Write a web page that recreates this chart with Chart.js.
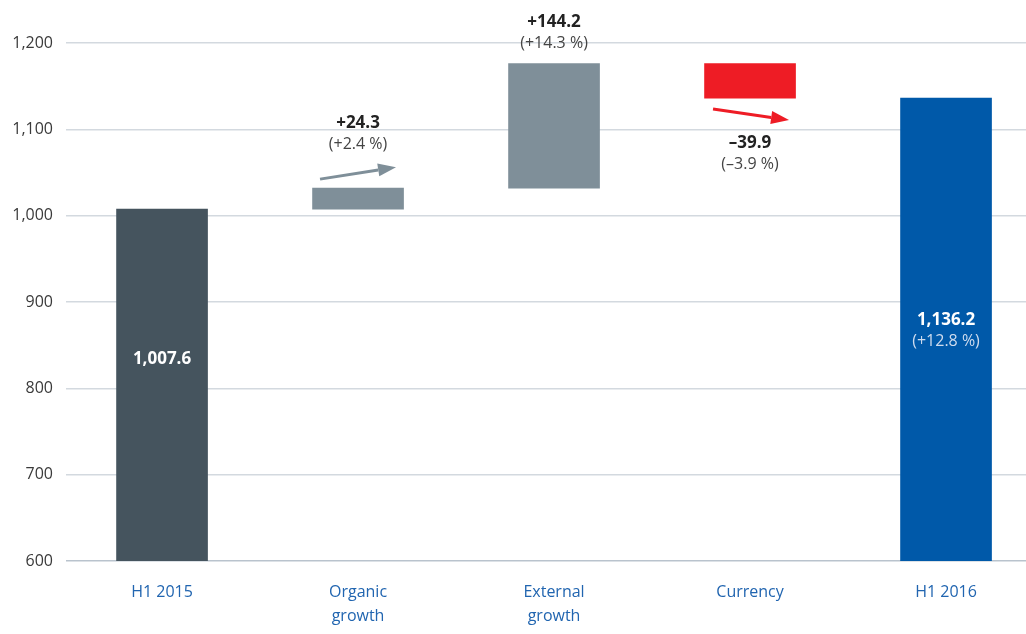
<!DOCTYPE html>
<html>
<head>
<meta charset="utf-8">
<script src="https://cdn.jsdelivr.net/npm/chart.js@4.4.1/dist/chart.umd.min.js"></script>
<style>
    html, body { margin: 0; padding: 0; background: #ffffff; }
    #wrap { width: 1026px; height: 634px; position: relative; }
</style>
</head>
<body>
<div id="wrap"><canvas id="bridgeChart"></canvas></div>
<script>
// Chart data
const categories = [["H1 2015"], ["Organic", "growth"], ["External", "growth"], ["Currency"], ["H1 2016"]];
const barStart = [600, 1007.6, 1031.9, 1136.2, 600];
const barEnd = [1007.6, 1031.9, 1176.1, 1176.1, 1136.2];
const valueLabels = ["1,007.6", "+24.3", "+144.2", "\u201339.9", "1,136.2"];
const percentLabels = [null, "(+2.4 %)", "(+14.3 %)", "(\u20133.9 %)", "(+12.8 %)"];
const yTicks = [600, 700, 800, 900, 1000, 1100, 1200];

const barColors = ["#45545e", "#7f8f99", "#7f8f99", "#ee1c25", "#0059a9"];
const FONT = "'Open Sans', 'Noto Sans', sans-serif";

// Draws the value labels and the small arrows next to the bars
const bridgeLabels = {
    id: "bridgeLabels",
    afterDatasetsDraw(chart) {
        const ctx = chart.ctx;
        const bars = chart.getDatasetMeta(0).data;
        ctx.save();
        ctx.textAlign = "center";
        ctx.textBaseline = "middle";

        bars.forEach((bar, i) => {
            const top = Math.min(bar.y, bar.base);
            const bottom = Math.max(bar.y, bar.base);
            let y1, y2, c1, c2;

            if (i === 0) {
                y1 = top + 150; c1 = "#ffffff";
            } else if (i === 4) {
                y1 = (top + bottom) / 2 - 9; c1 = "#ffffff"; c2 = "#cfdcee";
            } else if (i === 1) {
                y1 = top - 65; c1 = "#222222"; c2 = "#444444";
                drawArrow(ctx, bar.x - 38, top - 9, bar.x + 38, top - 21, "#7f8f99");
            } else if (i === 2) {
                y1 = top - 41; c1 = "#222222"; c2 = "#444444";
            } else {
                y1 = bottom + 45; c1 = "#222222"; c2 = "#444444";
                drawArrow(ctx, bar.x - 37, bottom + 11, bar.x + 39, bottom + 22, "#ee1c25");
            }

            ctx.font = "bold 17px " + FONT;
            ctx.fillStyle = c1;
            ctx.fillText(valueLabels[i], bar.x, y1);
            if (percentLabels[i]) {
                ctx.font = "16px " + FONT;
                ctx.fillStyle = c2;
                ctx.fillText(percentLabels[i], bar.x, y1 + 21);
            }
        });
        ctx.restore();
    }
};

function drawArrow(ctx, x1, y1, x2, y2, color) {
    const ang = Math.atan2(y2 - y1, x2 - x1);
    const headLen = 18, headW = 6.5;
    const bx = x2 - headLen * Math.cos(ang);
    const by = y2 - headLen * Math.sin(ang);
    ctx.save();
    ctx.strokeStyle = color;
    ctx.fillStyle = color;
    ctx.lineWidth = 3;
    ctx.beginPath();
    ctx.moveTo(x1, y1);
    ctx.lineTo(bx, by);
    ctx.stroke();
    ctx.beginPath();
    ctx.moveTo(x2, y2);
    ctx.lineTo(bx + headW * Math.sin(ang), by - headW * Math.cos(ang));
    ctx.lineTo(bx - headW * Math.sin(ang), by + headW * Math.cos(ang));
    ctx.closePath();
    ctx.fill();
    ctx.restore();
}

const ctx = document.getElementById("bridgeChart").getContext("2d");
new Chart(ctx, {
    type: "bar",
    data: {
        datasets: [{
            data: categories.map((c, i) => ({ x: i, y: [barStart[i], barEnd[i]] })),
            backgroundColor: barColors,
            borderWidth: 0,
            barThickness: 91
        }]
    },
    options: {
        responsive: true,
        maintainAspectRatio: false,
        animation: false,
        layout: { padding: { top: 43, right: 0, left: 0, bottom: 0 } },
        plugins: {
            legend: { display: false },
            tooltip: { enabled: false }
        },
        scales: {
            x: {
                type: "linear",
                offset: false,
                min: -0.49,
                max: 4.408,
                afterBuildTicks: (axis) => { axis.ticks = categories.map((c, i) => ({ value: i })); },
                afterFit: (axis) => { axis.height = 73; },
                grid: { display: false, offset: false },
                border: { display: false },
                ticks: {
                    padding: 11,
                    maxRotation: 0,
                    autoSkip: false,
                    color: "#2165b0",
                    font: { family: FONT, size: 16, lineHeight: 1.5 },
                    callback: (v) => categories[v]
                }
            },
            y: {
                min: 600,
                max: 1200,
                afterBuildTicks: (axis) => { axis.ticks = yTicks.map(v => ({ value: v })); },
                afterFit: (axis) => { axis.width = 66; },
                border: { display: false },
                grid: {
                    drawTicks: false,
                    lineWidth: 1.5,
                    color: (c) => c.tick && c.tick.value === 600 ? "#b9c3cd" : "#d3d9df"
                },
                ticks: {
                    padding: 13,
                    color: "#3a3a3a",
                    font: { family: FONT, size: 16 },
                    callback: (v) => v.toLocaleString("en-US")
                }
            }
        }
    },
    plugins: [bridgeLabels]
});
</script>
</body>
</html>
